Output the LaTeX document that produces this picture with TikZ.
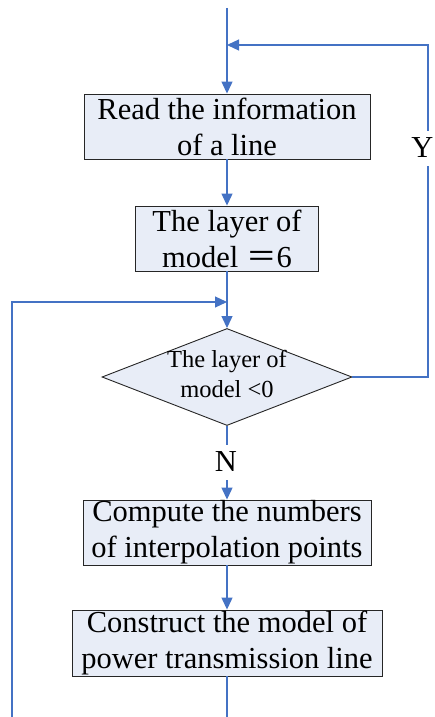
\documentclass[tikz,border=0pt]{standalone}
\usepackage{fontspec}
\setmainfont{Liberation Serif}
\newfontfamily\cjk{Noto Sans CJK SC}
\usetikzlibrary{arrows.meta,shapes.geometric}
\definecolor{flowblue}{HTML}{4472C4}
\definecolor{boxfill}{HTML}{E8EDF7}
\tikzset{
  flow/.style={draw=flowblue, line width=1.2pt},
  arr/.style={flow, -{Triangle[length=12pt,width=11pt]}},
  procbox/.style={draw=black!85, line width=0.9pt, fill=boxfill, inner sep=0pt,
    align=center, font=\fontsize{30.5}{36}\selectfont},
  decbox/.style={diamond, draw=black!85, line width=0.9pt, fill=boxfill, inner sep=0pt,
    minimum width=250pt, minimum height=97pt, aspect=2.58},
  dectext/.style={align=center, font=\fontsize{24.5}{30}\selectfont},
  lbl/.style={fill=white, inner sep=0pt, font=\fontsize{30.5}{36}\selectfont}
}
\begin{document}
\begin{tikzpicture}[x=1pt,y=-1pt]
\useasboundingbox (0,0) rectangle (435,717);
\coordinate (top) at (227,8);
\coordinate (j1) at (227,45);
\coordinate (j2) at (227,302);
\coordinate (bot) at (227,717);
\coordinate (botleft) at (12,717);
\coordinate (rc) at (428,377);
\node[procbox, minimum width=286pt, minimum height=65pt] (b1) at (227,126.5) {Read the information\\of a line};
\node[procbox, minimum width=183pt, minimum height=65pt] (b2) at (227,238.5) {The layer of\\model {\cjk ＝}6};
\node[decbox] (d) at (227,377) {};
\node[dectext] (dt) at (227,374) {The layer of\\model <0};
\node[procbox, minimum width=288pt, minimum height=65pt] (b3) at (227,532.5) {Compute the numbers\\of interpolation points};
\node[procbox, minimum width=310pt, minimum height=66pt] (b4) at (227,643) {Construct the model of\\power transmission line};
\draw[flow] (top) -- (j1);
\draw[arr] (j1) -- (b1.north);
\draw[arr] (b1.south) -- (b2.north);
\draw[arr] (b2.south) -- (d.north);
\draw[arr] (d.east) -- (rc) |- (j1);
\node[lbl, minimum height=35pt, minimum width=21pt] (y) at (422.5,148) {Y};
\draw[arr] (d.south) -- (b3.north);
\node[lbl, minimum height=35pt] (n) at (226,462) {N};
\draw[arr] (b3.south) -- (b4.north);
\draw[flow] (b4.south) -- (bot);
\draw[arr] (botleft) |- (j2);
\end{tikzpicture}
\end{document}
